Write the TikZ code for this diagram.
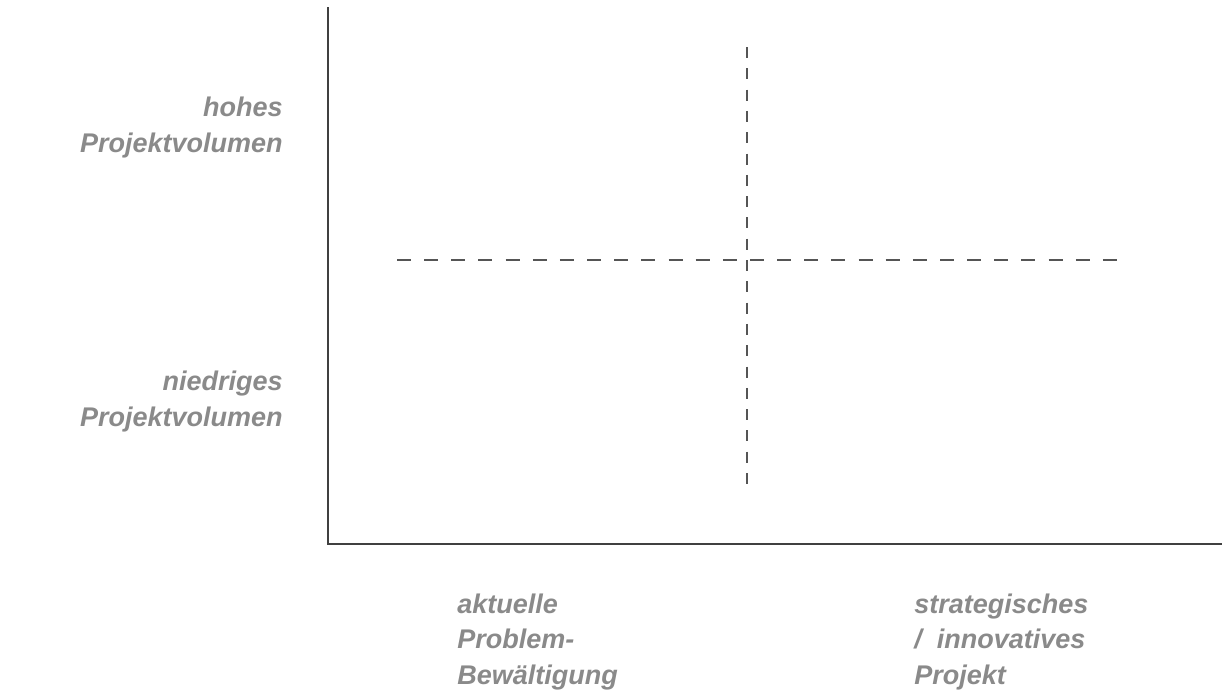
\documentclass[tikz,border=0pt]{standalone}
\usepackage{fontspec}
\setmainfont{Liberation Sans}
\usepackage{tikz}
\definecolor{labelgray}{RGB}{138,138,138}
\definecolor{axisgray}{RGB}{64,64,64}
\definecolor{dashgray}{RGB}{85,85,85}
\newcommand{\ztfont}{\fontsize{27}{35.5}\selectfont\bfseries\itshape}

\begin{document}
\begin{tikzpicture}[x=1pt,y=-1pt,style=thick]
			\useasboundingbox (0,0) rectangle (1222,694);
			\coordinate (A_t) at (328,7);
			\coordinate (A_o) at (328,544);
			\coordinate (A_r) at (1222,544);
			\coordinate (H_l) at (397,260);
			\coordinate (H_r) at (1117,260);
			\coordinate (V_t) at (747,47);
			\coordinate (V_b) at (747,485);
			\draw [-,axisgray,line width=2.2pt] (A_t) -- (A_o) -- (A_r);
			\draw [-,dashgray,line width=1.4pt,dash pattern=on 14pt off 13.15pt] (H_l) -- (H_r);
			\draw [-,dashgray,line width=1.4pt,dash pattern=on 11pt off 10.3pt] (V_t) -- (V_b);
			\begin{scope}[inner sep=0pt]
			\tikzstyle{every node}=[text=labelgray,font=\ztfont]
			\node[anchor=base east,align=right] (Y_1) at (283,152) {hohes\\Projektvolumen};
			\node[anchor=base east,align=right] (Y_2) at (283,426) {niedriges\\Projektvolumen};
			\node[anchor=base west,align=left] (X_1) at (457,684) {aktuelle\\Problem-\\Bewältigung};
			\node[anchor=base west,align=left] (X_2) at (914,684) {strategisches\\/~ innovatives\\Projekt};
			\end{scope}
		\end{tikzpicture}
\end{document}
